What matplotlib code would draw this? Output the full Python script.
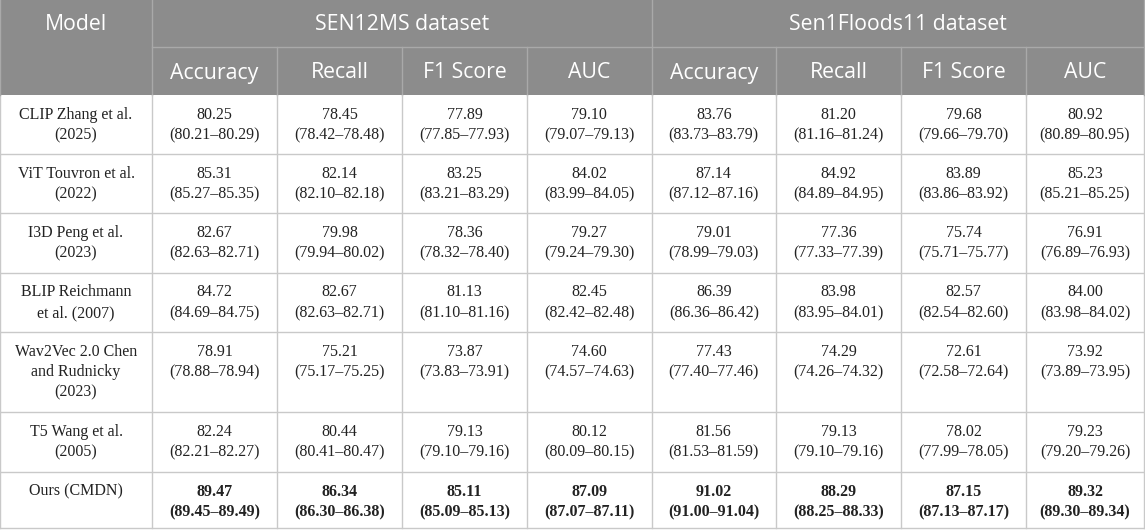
import matplotlib
matplotlib.use("Agg")
import matplotlib.pyplot as plt
from matplotlib.patches import Rectangle

# ── Table content ────────────────────────────────────────────────────────────
models = [
    "CLIP Zhang et al.\n(2025)",
    "ViT Touvron et al.\n(2022)",
    "I3D Peng et al.\n(2023)",
    "BLIP Reichmann\net al. (2007)",
    "Wav2Vec 2.0 Chen\nand Rudnicky\n(2023)",
    "T5 Wang et al.\n(2005)",
    "Ours (CMDN)",
]
datasets = ["SEN12MS dataset", "Sen1Floods11 dataset"]
metrics = ["Accuracy", "Recall", "F1 Score", "AUC"]

sen12_acc = [80.25, 85.31, 82.67, 84.72, 78.91, 82.24, 89.47]
sen12_acc_ci = [(80.21, 80.29), (85.27, 85.35), (82.63, 82.71), (84.69, 84.75),
                (78.88, 78.94), (82.21, 82.27), (89.45, 89.49)]
sen12_rec = [78.45, 82.14, 79.98, 82.67, 75.21, 80.44, 86.34]
sen12_rec_ci = [(78.42, 78.48), (82.10, 82.18), (79.94, 80.02), (82.63, 82.71),
                (75.17, 75.25), (80.41, 80.47), (86.30, 86.38)]
sen12_f1 = [77.89, 83.25, 78.36, 81.13, 73.87, 79.13, 85.11]
sen12_f1_ci = [(77.85, 77.93), (83.21, 83.29), (78.32, 78.40), (81.10, 81.16),
               (73.83, 73.91), (79.10, 79.16), (85.09, 85.13)]
sen12_auc = [79.10, 84.02, 79.27, 82.45, 74.60, 80.12, 87.09]
sen12_auc_ci = [(79.07, 79.13), (83.99, 84.05), (79.24, 79.30), (82.42, 82.48),
                (74.57, 74.63), (80.09, 80.15), (87.07, 87.11)]

flood_acc = [83.76, 87.14, 79.01, 86.39, 77.43, 81.56, 91.02]
flood_acc_ci = [(83.73, 83.79), (87.12, 87.16), (78.99, 79.03), (86.36, 86.42),
                (77.40, 77.46), (81.53, 81.59), (91.00, 91.04)]
flood_rec = [81.20, 84.92, 77.36, 83.98, 74.29, 79.13, 88.29]
flood_rec_ci = [(81.16, 81.24), (84.89, 84.95), (77.33, 77.39), (83.95, 84.01),
                (74.26, 74.32), (79.10, 79.16), (88.25, 88.33)]
flood_f1 = [79.68, 83.89, 75.74, 82.57, 72.61, 78.02, 87.15]
flood_f1_ci = [(79.66, 79.70), (83.86, 83.92), (75.71, 75.77), (82.54, 82.60),
               (72.58, 72.64), (77.99, 78.05), (87.13, 87.17)]
flood_auc = [80.92, 85.23, 76.91, 84.00, 73.92, 79.23, 89.32]
flood_auc_ci = [(80.89, 80.95), (85.21, 85.25), (76.89, 76.93), (83.98, 84.02),
                (73.89, 73.95), (79.20, 79.26), (89.30, 89.34)]

columns = [
    (sen12_acc, sen12_acc_ci), (sen12_rec, sen12_rec_ci),
    (sen12_f1, sen12_f1_ci), (sen12_auc, sen12_auc_ci),
    (flood_acc, flood_acc_ci), (flood_rec, flood_rec_ci),
    (flood_f1, flood_f1_ci), (flood_auc, flood_auc_ci),
]

# ── Layout (pixels) ──────────────────────────────────────────────────────────
W, H = 1145, 530
col_x = [0, 152, 277, 402, 527, 651.5, 776, 901, 1026, 1144]
row_y = [95, 154, 213, 272.5, 331.5, 412, 471.5, 528]
HEAD1, HEAD2 = 47, 95
LINE = 20.5

HEAD_BG = "#8c8c8c"
HEAD_LINE = "#a9a9a9"
GRID = "#c9c9c9"
TEXT = "#222222"
SANS = ["Open Sans", "DejaVu Sans"]
SERIF = ["Liberation Serif", "DejaVu Serif"]
HFS = 15.3   # header font size
BFS = 11.5   # body font size

fig = plt.figure(figsize=(W / 100, H / 100), dpi=100)
ax = fig.add_axes([0, 0, 1, 1])
ax.set_xlim(0, W)
ax.set_ylim(H, 0)
ax.axis("off")

# header background
ax.add_patch(Rectangle((0, 0), col_x[-1], HEAD2, facecolor=HEAD_BG,
                       edgecolor="none", zorder=0))
# header lines
ax.plot([col_x[1], col_x[-1]], [HEAD1, HEAD1], color=HEAD_LINE, lw=1)
for x in [col_x[1], col_x[5]]:
    ax.plot([x, x], [0, HEAD2], color=HEAD_LINE, lw=1)
for x in col_x[2:5] + col_x[6:9]:
    ax.plot([x, x], [HEAD1, HEAD2], color=HEAD_LINE, lw=1)

# header text
ax.text(col_x[0] + (col_x[1] - col_x[0]) / 2, HEAD1 / 2 + 1, "Model",
        ha="center", va="center", color="white", fontsize=HFS, family=SANS)
for d, name in enumerate(datasets):
    xc = (col_x[1 + 4 * d] + col_x[5 + 4 * d]) / 2
    ax.text(xc, HEAD1 / 2 + 1, name, ha="center", va="center",
            color="white", fontsize=HFS, family=SANS)
    for m, met in enumerate(metrics):
        i = 1 + 4 * d + m
        ax.text((col_x[i] + col_x[i + 1]) / 2, (HEAD1 + HEAD2) / 2 + 2, met,
                ha="center", va="center", color="white", fontsize=HFS,
                family=SANS)

# body grid
for y in row_y[1:]:
    ax.plot([0, col_x[-1]], [y, y], color=GRID, lw=1)
for x in col_x:
    ax.plot([x, x], [HEAD2, row_y[-1]], color=GRID, lw=1)
ax.plot([0, 0], [0, HEAD2], color=HEAD_LINE, lw=1)
ax.plot([col_x[-1], col_x[-1]], [0, HEAD2], color=HEAD_LINE, lw=1)

# body text
for r, model in enumerate(models):
    top = row_y[r]
    bold = model.startswith("Ours")
    for k, line in enumerate(model.split("\n")):
        ax.text(col_x[1] / 2, top + 20 + k * LINE, line, ha="center",
                va="center", color=TEXT, fontsize=BFS, family=SERIF)
    for c, (vals, cis) in enumerate(columns):
        xc = (col_x[c + 1] + col_x[c + 2]) / 2
        lo, hi = cis[r]
        w = "bold" if bold else "normal"
        ax.text(xc, top + 20, f"{vals[r]:.2f}", ha="center", va="center",
                color=TEXT, fontsize=BFS, family=SERIF, fontweight=w)
        ax.text(xc, top + 20 + LINE, f"({lo:.2f}\u2013{hi:.2f})", ha="center",
                va="center", color=TEXT, fontsize=BFS, family=SERIF,
                fontweight=w)

fig.savefig("out.png", dpi=100, facecolor="white")
